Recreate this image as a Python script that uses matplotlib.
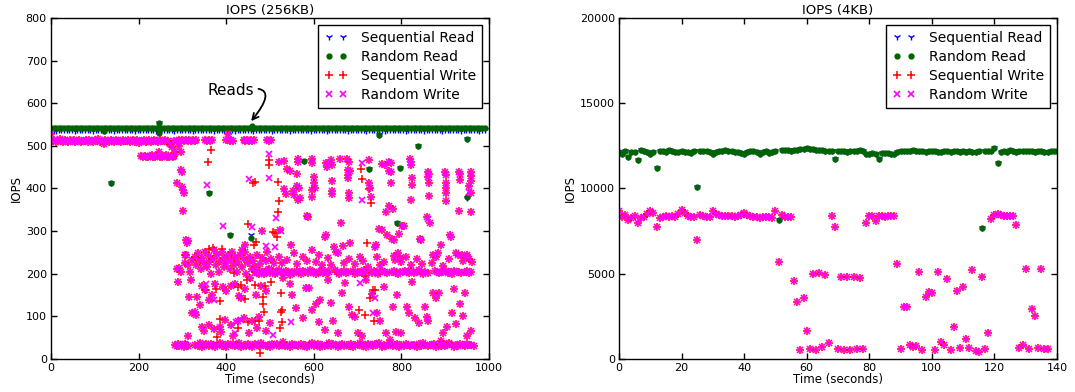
import matplotlib
matplotlib.use('Agg')
import matplotlib.pyplot as plt

# ---------------- 256KB run ----------------
# the two read runs sit on a flat line, read every 6 s
read_256_t = list(range(0, 991, 6))
seq_read_256 = [
    537, 537, 536, 537, 537, 538, 537, 537, 537, 536, 537, 537, 537, 538, 537, 537, 536, 537, 537, 537,
    537, 538, 537, 537, 536, 537, 537, 537, 538, 537, 537, 537, 536, 537, 537, 538, 537, 537, 537, 537,
    536, 537, 537, 538, 537, 537, 537, 536, 537, 537, 537, 538, 537, 537, 536, 537, 537, 537, 537, 538,
    537, 537, 536, 537, 537, 537, 538, 537, 537, 537, 536, 537, 537, 538, 537, 537, 537, 536, 537, 537,
    537, 538, 537, 537, 536, 537, 537, 537, 538, 537, 537, 536, 537, 537, 537, 538, 537, 537, 537, 536,
    537, 537, 538, 537, 537, 536, 537, 537, 537, 538, 537, 537, 537, 536, 537, 537, 538, 537, 537, 537,
    536, 537, 537, 537, 538, 537, 537, 536, 537, 537, 537, 538, 537, 537, 537, 536, 537, 537, 538, 537,
    537, 537, 536, 537, 537, 538, 537, 537, 537, 536, 537, 537, 537, 538, 537, 537, 536, 537, 537, 537,
    538, 537, 537, 536, 537, 537,
]
rand_read_256 = [
    541, 542, 542, 543, 542, 542, 541, 542, 542, 542, 543, 542, 542, 541, 542, 542, 542, 543, 542, 542,
    542, 541, 542, 542, 543, 542, 542, 542, 541, 542, 542, 543, 542, 542, 542, 541, 542, 542, 542, 543,
    542, 542, 541, 542, 542, 542, 543, 542, 542, 542, 541, 542, 542, 543, 542, 542, 542, 542, 541, 542,
    543, 542, 542, 542, 541, 542, 542, 542, 543, 542, 542, 541, 542, 542, 542, 543, 542, 542, 542, 541,
    542, 542, 543, 542, 542, 541, 542, 542, 542, 543, 542, 542, 542, 541, 542, 542, 543, 542, 542, 542,
    541, 542, 542, 542, 543, 542, 542, 541, 542, 542, 542, 543, 542, 542, 542, 541, 542, 542, 543, 542,
    542, 542, 541, 542, 542, 542, 543, 542, 542, 541, 542, 542, 542, 543, 542, 542, 542, 541, 542, 542,
    543, 542, 542, 542, 541, 542, 542, 543, 542, 542, 542, 541, 542, 542, 542, 543, 542, 542, 541, 542,
    542, 543, 542, 542, 542, 541,
]
# read samples that fell off the line (time, IOPS)
seq_read_dip_256 = [(122, 534), (136, 414), (247, 554), (247, 530), (361, 389), (408, 292), (457, 291),
                    (577, 465), (726, 445), (748, 525), (789, 318), (798, 448), (838, 500), (951, 516), (951, 377)]
rand_read_dip_256 = [(122, 534), (136, 414), (247, 554), (247, 530), (361, 389), (408, 292), (457, 283),
                     (460, 547), (577, 465), (726, 445), (748, 525), (789, 318), (798, 448), (838, 500),
                     (951, 516), (951, 380)]

# write bands where both write runs overlap
band_hi_t = list(range(0, 289, 4))
band_hi_v = [
    513, 511, 514, 510, 512, 515, 511, 509, 513, 512, 510, 514, 511, 513, 509, 512, 514, 510, 512, 511,
    513, 510, 514, 512, 509, 513, 511, 515, 510, 512, 504, 513, 511, 510, 514, 512, 509, 513, 511, 512,
    510, 514, 512, 511, 513, 509, 512, 514, 510, 513, 506, 512, 511, 514, 510, 512, 513, 509, 511, 514,
    512, 510, 513, 511, 512, 514, 510, 512, 505, 498, 512, 486, 511,
]
band_mid_t = list(range(206, 283, 4))
band_mid_v = [476, 474, 477, 475, 473, 476, 478, 474, 475, 477, 486, 475, 474, 476, 478, 475, 473, 476, 474, 477]
band_hi2_t = [292, 296, 300, 304, 308, 312, 316, 320, 324, 328, 332, 352, 356, 360, 364, 368,
              400, 404, 408, 412, 416, 440, 444, 448, 452, 456, 460, 464, 494, 498, 502]
band_hi2_v = [513, 512, 514, 512, 513, 511, 514, 512, 513, 512, 514, 513, 512, 514, 512, 513,
              514, 528, 512, 513, 512, 513, 512, 514, 512, 513, 512, 514, 513, 512, 513]
band_low_t = [284, 287, 290, 293, 300, 303, 306, 309, 312] + list(range(330, 966, 5))
band_low_v = [
    33, 30, 35, 31, 34, 29, 36, 32, 30,
    34, 31, 37, 29, 33, 36, 30, 35, 32, 28, 34, 38, 31, 33, 29, 36,
    32, 35, 30, 33, 37, 29, 34, 31, 36, 33, 28, 35, 32, 30, 38, 33,
    31, 34, 29, 36, 32, 35, 30, 33, 41, 31, 34, 29, 36, 32, 33, 30,
    35, 31, 34, 28, 33, 37, 30, 32, 36, 29, 34, 31, 33, 38, 30, 35,
    32, 29, 34, 36, 31, 33, 30, 35, 28, 34, 32, 37, 31, 33, 29, 36,
    33, 30, 35, 32, 38, 29, 34, 31, 33, 36, 30, 32, 35, 28, 34, 31,
    36, 33, 30, 34, 32, 29, 35, 31, 37, 33, 30, 34, 32, 36, 29, 33,
    31, 35, 30, 33, 38, 32, 29, 34, 31, 36, 33, 30, 35, 32, 34, 31,
]
band_200_t = [*range(466, 637, 5), *range(648, 679, 5), *range(690, 721, 5), *range(732, 768, 5),
              *range(778, 824, 5), *range(830, 861, 5), *range(876, 937, 5), *range(945, 962, 5)]
band_200_v = [
    204, 201, 207, 203, 199, 205, 208, 202, 206, 200, 204, 209, 203,
    201, 206, 204, 198, 205, 202, 207, 203, 200, 206, 204, 201, 208,
    203, 205, 199, 204, 207, 202, 206, 201, 204, 209, 203, 200, 205,
    207, 202, 204, 206, 199, 203, 205, 201, 208, 204, 202, 206, 203,
    200, 205, 207, 203, 201, 204, 206, 202, 199, 205, 203, 207, 204,
    202, 206, 201, 204, 208, 203, 200, 205, 202, 206, 204, 201, 205,
    203, 207, 202, 204, 200, 206, 203, 205, 201, 204, 207, 202, 204,
]
# scattered points where both write runs coincide (time, IOPS)
write_both_256 = [
    (0, 528), (293, 500), (296, 485), (298, 443), (300, 438), (287, 412), (299, 404), (302, 397),
    (303, 389), (302, 347), (309, 279), (310, 271), (312, 276), (305, 245),
    (287, 212), (290, 181), (292, 214), (298, 205), (305, 225), (308, 245), (312, 220), (318, 205),
    (322, 232), (328, 240), (332, 220), (336, 248), (340, 230), (342, 210), (346, 238), (350, 225),
    (352, 250), (356, 215), (360, 242), (362, 228), (366, 200), (370, 235), (372, 255), (376, 220),
    (380, 245), (384, 205), (386, 230), (390, 250), (394, 215), (396, 238), (400, 225), (404, 245),
    (408, 210), (410, 232), (414, 250), (418, 220), (420, 240), (424, 205), (428, 228), (432, 245),
    (436, 215), (440, 235), (444, 252), (446, 200), (450, 225), (454, 240), (458, 210), (462, 230),
    (466, 215), (470, 245), (474, 200), (478, 222), (482, 238), (486, 205), (490, 230), (494, 250),
    (498, 212), (502, 235), (506, 204), (510, 225),
    (316, 145), (320, 185), (334, 146), (340, 127), (346, 172), (352, 163), (360, 138), (368, 150),
    (374, 175), (392, 170), (400, 160), (412, 172), (420, 175), (430, 148), (435, 142), (442, 165),
    (455, 190), (468, 150), (480, 172), (492, 160),
    (322, 108), (328, 111), (332, 103), (345, 75), (350, 65), (362, 80), (372, 70), (386, 76),
    (388, 64), (398, 92), (410, 80), (415, 55), (428, 90), (440, 95), (452, 60), (460, 90),
    (470, 72), (476, 98), (490, 65), (500, 85), (312, 53), (442, 267), (482, 301), (436, 255),
    # upper clusters
    (520, 463), (533, 465), (533, 398), (536, 387), (540, 445), (545, 440), (553, 395), (556, 385),
    (561, 434), (562, 406), (564, 463), (565, 469), (567, 400), (564, 373), (568, 378), (584, 336),
    (595, 470), (597, 459), (600, 426), (601, 414), (597, 396), (595, 381), (602, 402), (627, 459),
    (630, 450), (640, 466), (641, 455), (641, 418), (641, 393), (642, 386), (660, 470), (678, 443),
    (678, 432), (678, 424), (680, 463), (681, 389), (681, 377), (677, 469), (682, 441), (726, 466),
    (726, 412), (728, 402), (730, 381), (757, 457), (762, 455), (772, 461), (772, 441), (777, 459),
    (777, 439), (776, 412), (772, 359), (781, 351), (766, 346), (820, 469), (821, 463), (821, 455),
    (825, 424), (825, 408), (821, 373), (861, 438), (861, 426), (863, 434), (863, 412), (864, 383),
    (900, 438), (902, 432), (902, 412), (901, 400), (902, 389), (902, 371), (931, 438), (933, 434),
    (933, 420), (931, 347), (960, 438), (959, 430), (960, 418), (954, 406), (959, 389), (960, 344),
    # middle
    (587, 334), (625, 287), (628, 290), (646, 262), (650, 250), (663, 320), (667, 266), (682, 271),
    (741, 262), (743, 267), (749, 306), (756, 303), (768, 290), (778, 282), (784, 278), (795, 294),
    (802, 312), (807, 312), (842, 281), (845, 278), (858, 332), (865, 320), (873, 245), (884, 248),
    (891, 267), (912, 290), (914, 286), (939, 243), (930, 243), (950, 243), (796, 236), (784, 242),
    (548, 267), (524, 302),
    # just above the 200 band
    (520, 240), (528, 225), (540, 232), (555, 248), (562, 222), (575, 240), (585, 230), (595, 255),
    (605, 228), (612, 245), (620, 220), (632, 238), (640, 220), (655, 248), (670, 225), (680, 235),
    (695, 222), (705, 240), (712, 230), (725, 215), (745, 240), (752, 220), (760, 228), (785, 232),
    (792, 248), (800, 228), (810, 240), (822, 220), (835, 234), (848, 222), (870, 225), (880, 240),
    (895, 218), (910, 235), (925, 248), (940, 229), (950, 240), (955, 234), (962, 228),
    # lower scatter
    (530, 190), (545, 175), (550, 150), (560, 120), (575, 95), (583, 166), (590, 166), (596, 115),
    (605, 130), (611, 87), (615, 138), (625, 68), (632, 186), (640, 131), (645, 88), (655, 61),
    (665, 155), (672, 178), (680, 123), (688, 104), (695, 99), (700, 61), (710, 53), (720, 186),
    (732, 152), (745, 107), (752, 90), (760, 168), (765, 61), (775, 45), (780, 123), (787, 63),
    (790, 150), (800, 61), (812, 123), (818, 107), (825, 180), (832, 95), (840, 84), (855, 123),
    (858, 99), (862, 88), (872, 155), (880, 144), (885, 155), (890, 43), (895, 60), (905, 74),
    (915, 107), (920, 164), (925, 82), (935, 130), (940, 100), (945, 155), (950, 53), (958, 65),
]
seq_write_only_256 = [
    (358, 463), (365, 491), (461, 414), (465, 416), (499, 467), (499, 455), (518, 416), (520, 371),
    (518, 345), (512, 296), (517, 287), (451, 317), (469, 275), (508, 298), (463, 267), (360, 259),
    (369, 261), (391, 257), (708, 445), (711, 422), (726, 398), (730, 367), (722, 271), (355, 163),
    (376, 165), (385, 135), (385, 93), (380, 51), (426, 73), (449, 86), (467, 89), (475, 89),
    (486, 111), (485, 129), (484, 146), (489, 171), (502, 181), (526, 111), (528, 87), (524, 73),
    (526, 154), (528, 116), (435, 173), (448, 185), (465, 173), (418, 202), (427, 169), (444, 140),
    (477, 14), (739, 162), (729, 142), (718, 195), (704, 116), (718, 104), (738, 90), (736, 163),
]
rand_write_only_256 = [
    (356, 408), (392, 312), (453, 422), (460, 309), (497, 481), (499, 424), (514, 330), (526, 301),
    (711, 459), (711, 373), (372, 139), (355, 177), (423, 87), (433, 91), (507, 56), (549, 87),
    (705, 178), (740, 144), (736, 107), (860, 329), (954, 391), (490, 265), (512, 262), (420, 60),
]

# ---------------- 4KB run ----------------
read_4k_t = list(range(0, 141))
read_4k = [
    12150, 12050, 12200, 11850, 12150, 12150, 11650, 12250, 12200, 12150,
    12050, 12150, 11200, 12200, 12200, 12150, 12250, 12200, 12150, 12150,
    12200, 12150, 12150, 12100, 12200, 10100, 12200, 12200, 12200, 12150,
    12050, 12150, 12200, 12200, 12250, 12200, 12200, 12150, 12150, 12100,
    12000, 12150, 12200, 12200, 12150, 12050, 12150, 12200, 12100, 12150,
    12200, 8150, 12250, 12250, 12250, 12200, 12250, 12250, 12300, 12300,
    12350, 12300, 12300, 12250, 12250, 12250, 12200, 12200, 12200, 11750,
    12200, 12200, 12200, 12150, 12200, 12200, 12200, 12250, 12200, 12050,
    12050, 12100, 12050, 11750, 12100, 12100, 12100, 12050, 12000, 12150,
    12200, 12200, 12200, 12200, 12250, 12200, 12200, 12200, 12150, 12200,
    12200, 12200, 12150, 12150, 12200, 12200, 12150, 12200, 12200, 12150,
    12200, 12150, 12200, 12150, 12150, 12200, 7700, 12200, 12200, 12200,
    12350, 11500, 12150, 12200, 12150, 12250, 12200, 12150, 12200, 12200,
    12200, 12200, 12200, 12150, 12200, 12200, 12150, 12150, 12200, 12200,
    12200,
]
write_4k_t = list(range(0, 138))
write_4k = [
    8700, 8350, 8450, 8150, 8250, 8400, 7950, 8250, 8350, 8500,
    8700, 8550, 7750, 8250, 8300, 8400, 8350, 8400, 8350, 8500,
    8750, 8550, 8400, 8300, 8300, 7000, 8450, 8400, 8350, 8300,
    8700, 8500, 8450, 8400, 8400, 8400, 8400, 8350, 8400, 8450,
    8550, 8450, 8400, 8350, 8300, 8250, 8350, 8300, 8300, 8250,
    8700, 5700, 8450, 8350, 8300, 8300, 4600, 3350, 530, 3600,
    1640, 590, 4980, 530, 5040, 730, 4940, 950, 8400, 7750,
    590, 4780, 550, 4780, 550, 4800, 590, 4740, 590, 7950,
    8400, 8400, 8100, 8400, 8400, 8350, 8400, 8400, 8400, 5590,
    590, 3060, 3060, 830, 690, 750, 5080, 550, 3620, 3930,
    3890, 530, 5080, 990, 830, 4700, 530, 1880, 3990, 630,
    4250, 1190, 630, 5200, 490, 430, 4800, 590, 1540, 8200,
    8450, 8500, 8450, 8400, 8400, 8400, 8400, 7850, 650, 850,
    5300, 590, 2960, 2530, 650, 5300, 590, 590,
]

labels = ['Sequential Read', 'Random Read', 'Sequential Write', 'Random Write']
GREEN = '#006400'
MAGENTA = '#ff00ff'


def unzip(pts):
    return [p[0] for p in pts], [p[1] for p in pts]


def style_axes(ax, title, xmax, ymax, xstep, ystep):
    ax.set_xlim(0, xmax)
    ax.set_ylim(0, ymax)
    ax.set_xticks(range(0, xmax + 1, xstep))
    ax.set_yticks(range(0, ymax + 1, ystep))
    ax.tick_params(direction='in', top=True, right=True, length=4, width=1, labelsize=8, pad=3)
    for s in ax.spines.values():
        s.set_linewidth(1.0)
    ax.set_title(title, fontsize=9.5, pad=3)
    ax.set_xlabel('Time (seconds)', fontsize=8.5, labelpad=0)
    ax.set_ylabel('IOPS', fontsize=8.5, labelpad=2)
    leg = ax.legend(loc='upper right', numpoints=2, fontsize=10, fancybox=False, framealpha=1,
                    edgecolor='black', handlelength=1.6, handletextpad=1.0, labelspacing=0.35,
                    borderpad=0.45)
    leg.get_frame().set_linewidth(1.0)


fig = plt.figure(figsize=(10.75, 3.92), dpi=100)
ax1 = fig.add_axes([0.0474, 0.0842, 0.4074, 0.8699])
ax2 = fig.add_axes([0.5758, 0.0842, 0.4074, 0.8699])

# 256KB
dt, dv = unzip(seq_read_dip_256)
ax1.plot(read_256_t + dt, seq_read_256 + dv, '1', color='b', ms=5, mew=1, label=labels[0])
dt, dv = unzip(rand_read_dip_256)
ax1.plot(read_256_t + dt, rand_read_256 + dv, '.', color=GREEN, ms=7, label=labels[1])

bt, bv = unzip(write_both_256)
shared_t = band_hi_t + band_mid_t + band_hi2_t + band_low_t + band_200_t + bt
shared_v = band_hi_v + band_mid_v + band_hi2_v + band_low_v + band_200_v + bv
st, sv = unzip(seq_write_only_256)
rt, rv = unzip(rand_write_only_256)
ax1.plot(shared_t + st, shared_v + sv, '+', color='red', ms=5.5, mew=1.1, label=labels[2])
ax1.plot(shared_t + rt, shared_v + rv, 'x', color=MAGENTA, ms=5, mew=1.2, label=labels[3])

ax1.annotate('Reads', xy=(453, 553), xytext=(358, 631), ha='left', va='center', fontsize=11,
             arrowprops=dict(arrowstyle='->', connectionstyle='angle3,angleA=0,angleB=50',
                             relpos=(1.0, 0.6), shrinkA=1, lw=1.3, color='black'))
style_axes(ax1, 'IOPS (256KB)', 1000, 800, 200, 100)

# 4KB (both read runs and both write runs land on the same values)
ax2.plot(read_4k_t, read_4k, '1', color='b', ms=5, mew=1, label=labels[0])
ax2.plot(read_4k_t, read_4k, '.', color=GREEN, ms=7, label=labels[1])
ax2.plot(write_4k_t, write_4k, '+', color='red', ms=5.5, mew=1.1, label=labels[2])
ax2.plot(write_4k_t, write_4k, 'x', color=MAGENTA, ms=5, mew=1.2, label=labels[3])
style_axes(ax2, 'IOPS (4KB)', 140, 20000, 20, 5000)

fig.savefig('out.png', dpi=100)
